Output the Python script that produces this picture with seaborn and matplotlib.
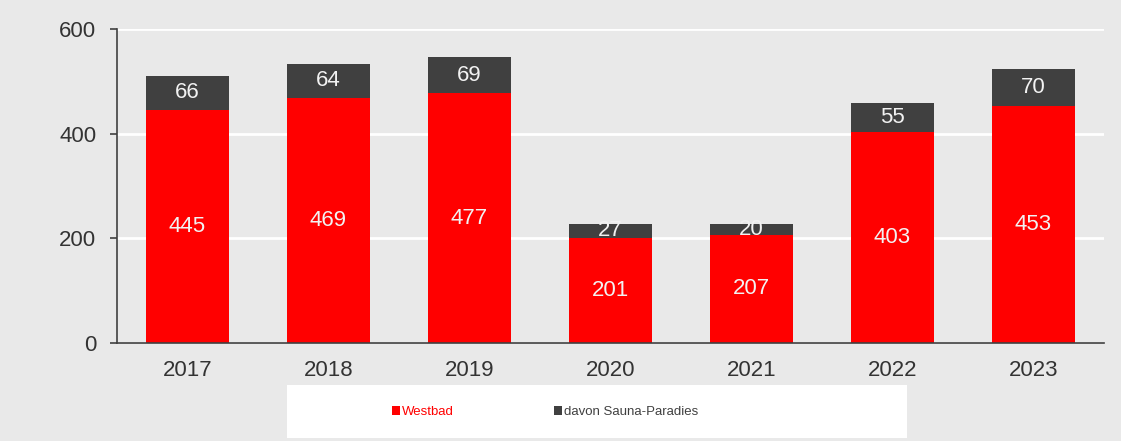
import numpy as np
import pandas as pd
import matplotlib
matplotlib.use("Agg")
import matplotlib.pyplot as plt
import seaborn as sns
from matplotlib.patches import Patch, Rectangle

years = ["2017", "2018", "2019", "2020", "2021", "2022", "2023"]
westbad = [445, 469, 477, 201, 207, 403, 453]
sauna = [66, 64, 69, 27, 20, 55, 70]
series_names = ["Westbad", "davon Sauna-Paradies"]
yticks = [0, 200, 400, 600]

RED = "#ff0000"
DARK = "#404040"
BG = "#e9e9e9"

sns.set_theme(style="white")
plt.rcParams["font.family"] = ["Liberation Sans", "DejaVu Sans"]

df = pd.DataFrame({"year": years, "westbad": westbad, "sauna": sauna})
df["total"] = df["westbad"] + df["sauna"]

fig = plt.figure(figsize=(11.21, 4.41), dpi=100, facecolor=BG)
ax = fig.add_axes([117 / 1121, 1 - 343 / 441, (1104 - 117) / 1121, (343 - 29) / 441])
ax.set_facecolor(BG)

sns.barplot(data=df, x="year", y="total", color=DARK, width=0.59,
            linewidth=0, saturation=1, ax=ax, zorder=3)
sns.barplot(data=df, x="year", y="westbad", color=RED, width=0.59,
            linewidth=0, saturation=1, ax=ax, zorder=3)

for i, (w, s) in enumerate(zip(westbad, sauna)):
    ax.text(i, w / 2, str(w), ha="center", va="center", color="#f2f2f2",
            fontsize=16, zorder=4)
    ax.text(i, w + s / 2, str(s), ha="center", va="center", color="#f2f2f2",
            fontsize=16, zorder=4)

ax.set_xlim(-0.5, len(years) - 0.5)
ax.set_ylim(0, 600)
ax.set_yticks(yticks)
ax.set_yticklabels([str(t) for t in yticks])
ax.yaxis.grid(True, color="white", linewidth=2, zorder=0)
ax.set_axisbelow(True)
ax.set_xlabel("")
ax.set_ylabel("")

for side in ["top", "right"]:
    ax.spines[side].set_visible(False)
for side in ["left", "bottom"]:
    ax.spines[side].set_color(DARK)
    ax.spines[side].set_linewidth(1.2)
    ax.spines[side].set_zorder(5)

ax.set_xticks(np.arange(0.5, len(years) - 0.5, 1), minor=True)
ax.tick_params(axis="x", which="major", length=0, pad=12, labelsize=16, labelcolor="#333333")
ax.tick_params(axis="x", which="minor", length=5, width=1.2, color=DARK, direction="out")
ax.tick_params(axis="y", which="major", length=5, width=1.2, color=DARK, direction="out",
               labelsize=16, labelcolor="#333333", left=True, pad=10)

# legend box
fig.patches.append(Rectangle((287 / 1121, 1 - 438 / 441), (907 - 287) / 1121, (438 - 385) / 441,
                             transform=fig.transFigure, facecolor="white", edgecolor="none",
                             zorder=0))
handles = [Patch(facecolor=RED, edgecolor="none"), Patch(facecolor=DARK, edgecolor="none")]
leg = fig.legend(handles, series_names, loc="center left",
                 bbox_to_anchor=(380 / 1121, 1 - 412 / 441), ncol=2, frameon=False,
                 fontsize=9.5, handlelength=0.6, handleheight=0.6, handletextpad=0.15,
                 columnspacing=7.6)
for t, c in zip(leg.get_texts(), [RED, DARK]):
    t.set_color(c)

fig.savefig("out.png", dpi=100, facecolor=BG)
